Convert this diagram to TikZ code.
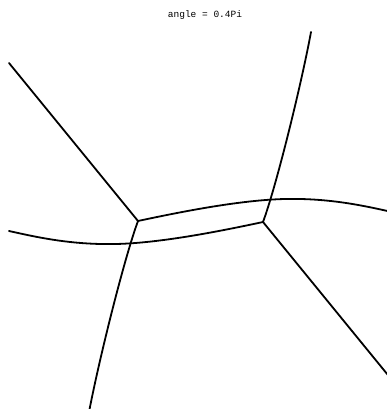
\documentclass[tikz,border=0pt]{standalone}
\usepackage{fontspec}
\newfontfamily\plotmono{Liberation Mono}
\usepackage{tikz}
\usetikzlibrary{positioning,calc}

\begin{document}
\begin{tikzpicture}[x=1pt, y=-1pt,
    wall/.style={line width=1.8pt, black, line cap=round, line join=round},
    plottitle/.style={font=\plotmono\fontsize{9.5}{10}\selectfont, inner sep=0pt}
]
    \useasboundingbox (0,0) rectangle (387,409);
    \clip (0,0) rectangle (387,409);

    \node[plottitle] (ttl) at (205,15) {angle = 0.4Pi};

    % the two triple junctions
    \coordinate (jl) at (138,221);
    \coordinate (jr) at (263,222);

    % free ends
    \coordinate (nw) at (9,63);
    \coordinate (sw) at (89,412);
    \coordinate (ne) at (311,32);
    \coordinate (se) at (392,380);
    \coordinate (ew) at (9,231);
    \coordinate (ee) at (392,212);
    \coordinate (ptop) at (285,199);
    \coordinate (pbot) at (116,244);

    \draw[wall] (nw) -- (jl);
    \draw[wall] (jl) .. controls (125,256) and (100,355) .. (sw);
    \draw[wall] (jr) .. controls (276,187) and (301,86) .. (ne);
    \draw[wall] (jr) -- (se);

    \draw[wall] (jl) .. controls (180,212) and (240,200) .. (ptop)
        .. controls (330,198) and (365,206) .. (ee);
    \draw[wall] (jr) .. controls (221,231) and (161,243) .. (pbot)
        .. controls (71,245) and (36,237) .. (ew);
\end{tikzpicture}
\end{document}
